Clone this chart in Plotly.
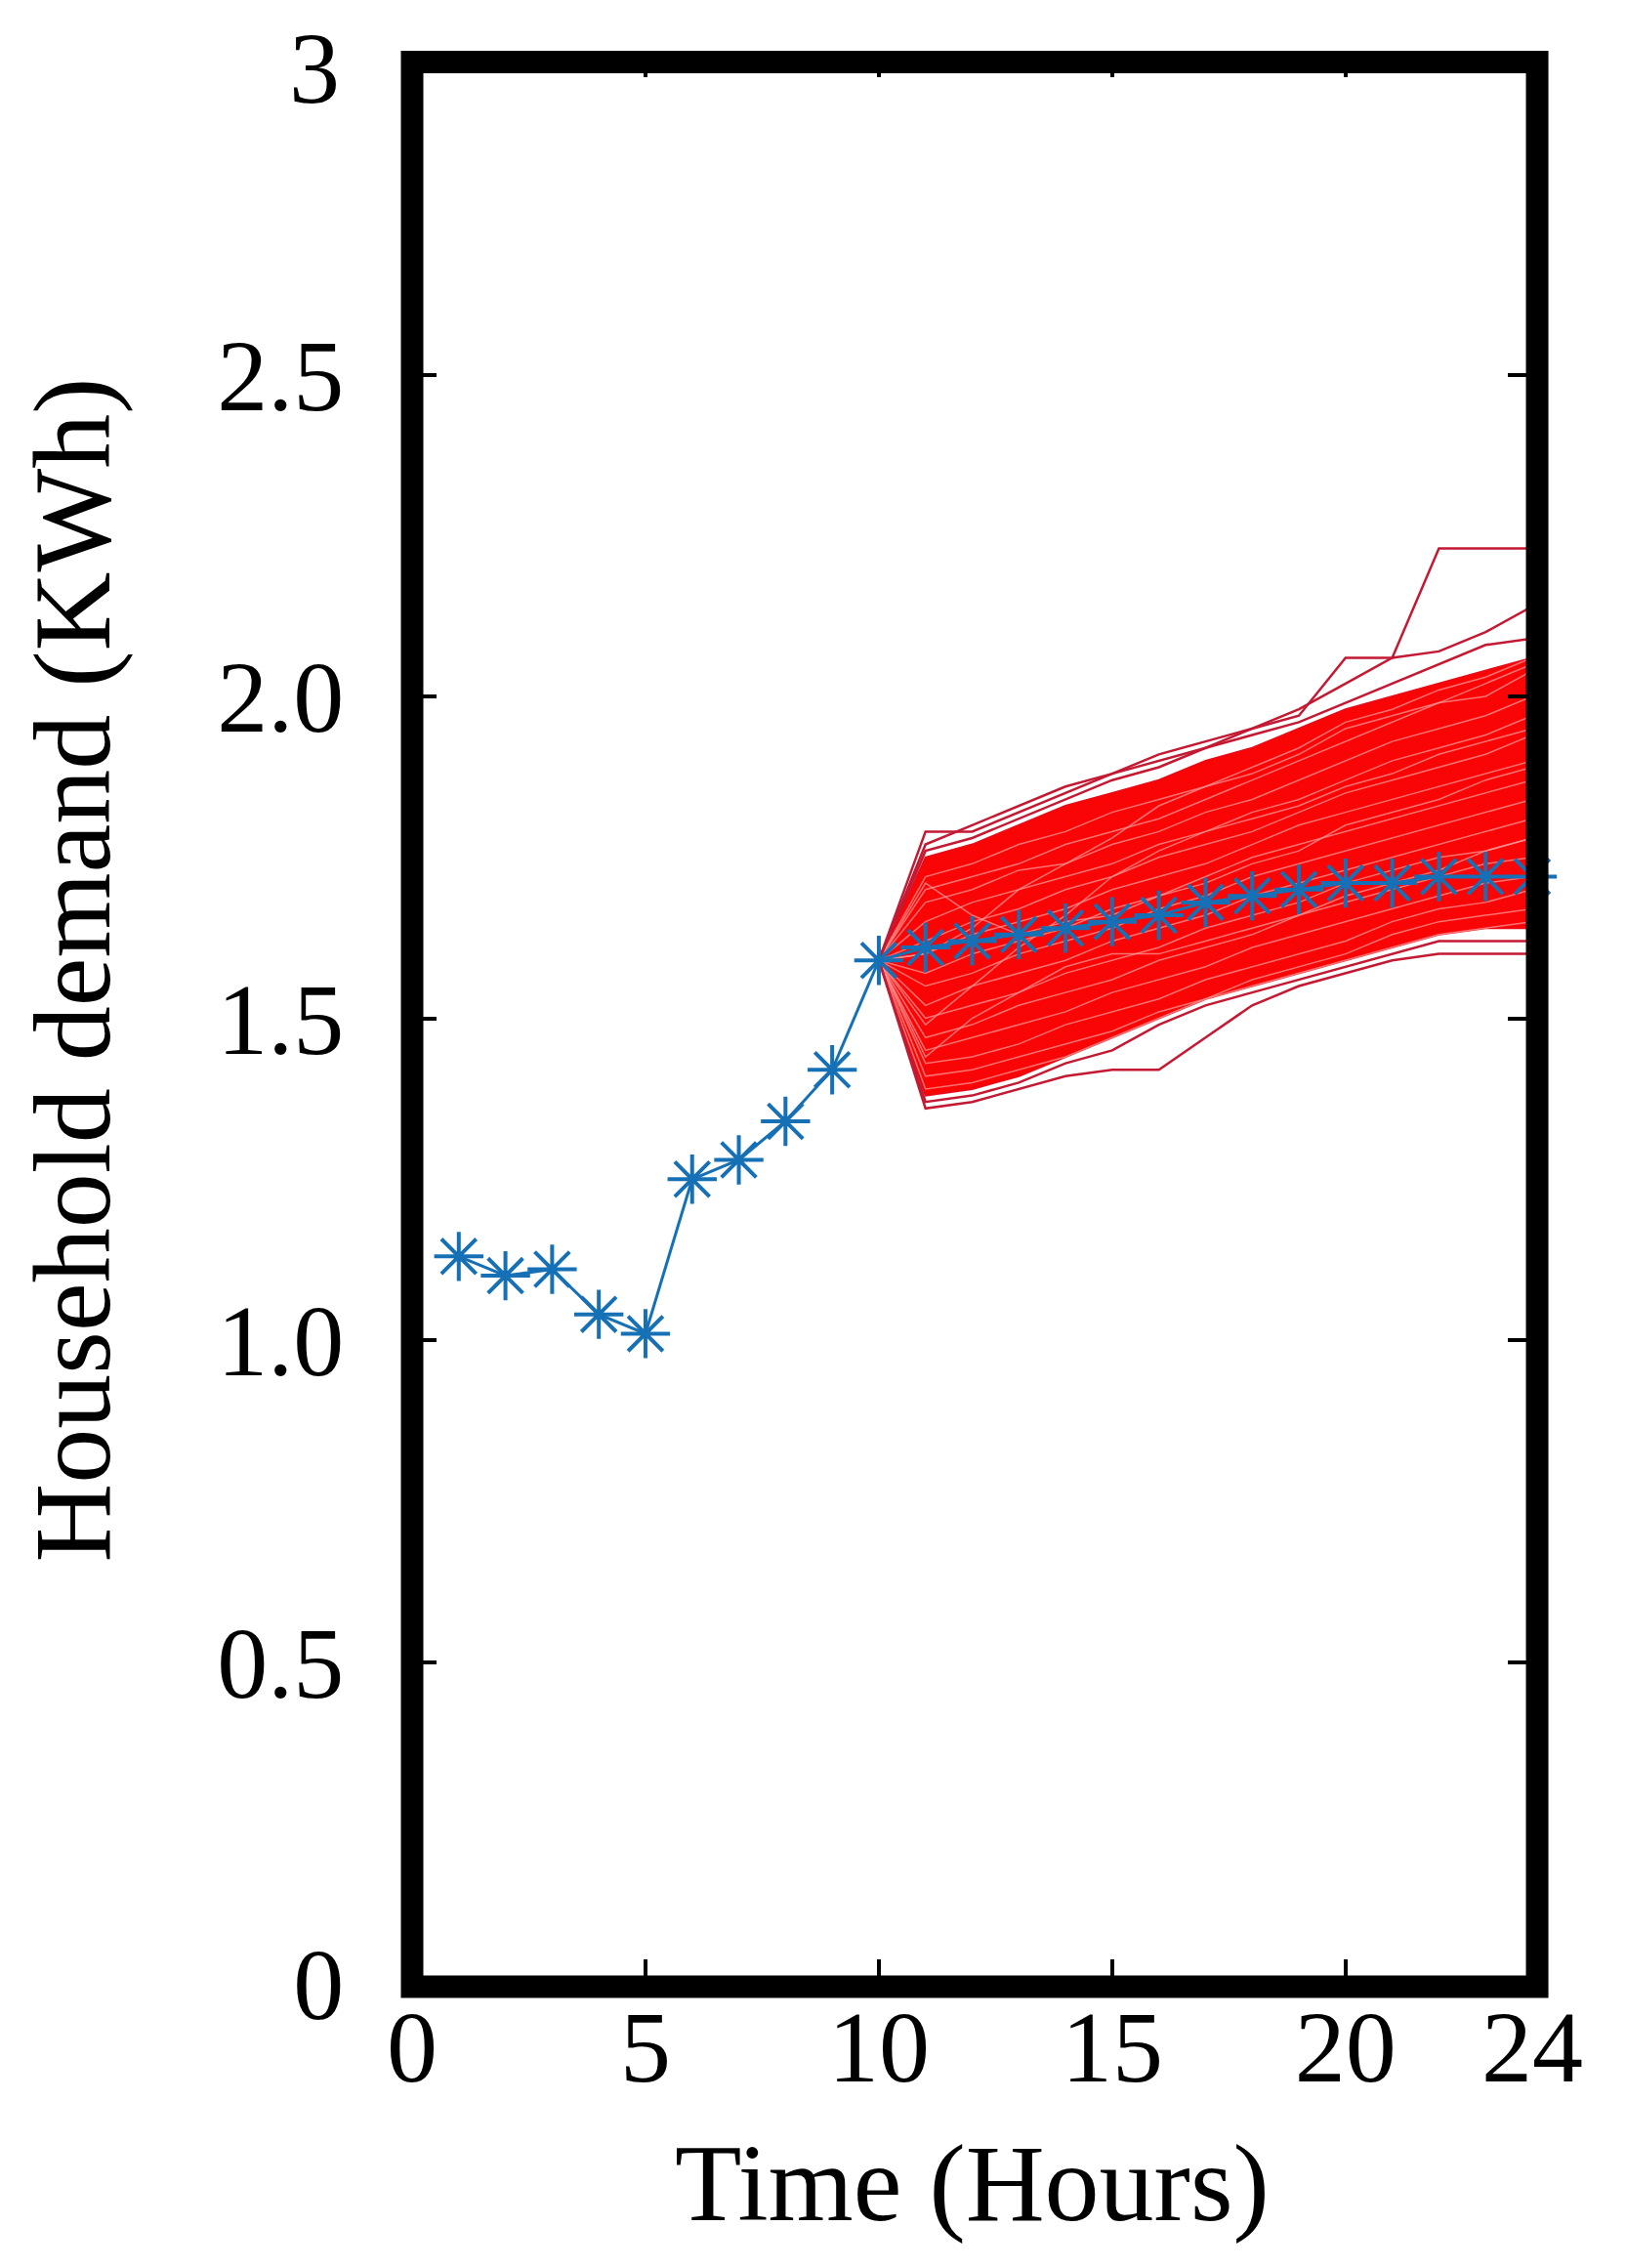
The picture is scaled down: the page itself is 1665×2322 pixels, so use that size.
import plotly.graph_objects as go

# ---------------- data ----------------
hours = list(range(1, 25))
forecast = [1.13, 1.10, 1.11, 1.04, 1.01, 1.25, 1.28, 1.34, 1.42, 1.59,
            1.61, 1.62, 1.63, 1.64, 1.65, 1.66, 1.68, 1.69, 1.70, 1.71,
            1.71, 1.72, 1.72, 1.72]

scen_hours = list(range(10, 25))
core_upper = [1.59, 1.75, 1.77, 1.80, 1.83, 1.85, 1.87, 1.90, 1.92, 1.95, 1.98, 2.00, 2.02, 2.04, 2.06]
core_lower = [1.59, 1.38, 1.39, 1.41, 1.44, 1.47, 1.50, 1.53, 1.55, 1.57, 1.59, 1.61, 1.63, 1.64, 1.64]

s01 = [1.59, 1.79, 1.79, 1.82, 1.85, 1.88, 1.91, 1.93, 1.95, 1.97, 2.06, 2.06, 2.23, 2.23, 2.23]
s02 = [1.59, 1.77, 1.80, 1.83, 1.86, 1.88, 1.90, 1.92, 1.95, 1.98, 2.02, 2.06, 2.07, 2.10, 2.14]
s03 = [1.59, 1.76, 1.78, 1.81, 1.84, 1.87, 1.89, 1.92, 1.94, 1.96, 1.99, 2.02, 2.05, 2.08, 2.09]
s04 = [1.59, 1.72, 1.74, 1.77, 1.79, 1.82, 1.84, 1.86, 1.89, 1.92, 1.96, 1.98, 2.01, 2.03, 2.06]
s05 = [1.59, 1.70, 1.72, 1.74, 1.77, 1.79, 1.81, 1.84, 1.87, 1.90, 1.93, 1.96, 1.99, 2.00, 2.04]
s06 = [1.59, 1.68, 1.70, 1.73, 1.74, 1.77, 1.79, 1.82, 1.84, 1.87, 1.90, 1.93, 1.95, 1.97, 2.00]
s07 = [1.59, 1.65, 1.68, 1.70, 1.72, 1.74, 1.77, 1.79, 1.82, 1.84, 1.87, 1.90, 1.92, 1.94, 1.97]
s08 = [1.59, 1.62, 1.65, 1.67, 1.70, 1.72, 1.75, 1.77, 1.79, 1.82, 1.85, 1.87, 1.89, 1.91, 1.94]
s09 = [1.59, 1.60, 1.63, 1.65, 1.67, 1.70, 1.72, 1.74, 1.77, 1.80, 1.82, 1.84, 1.86, 1.88, 1.90]
s10 = [1.59, 1.57, 1.60, 1.62, 1.64, 1.67, 1.69, 1.72, 1.75, 1.77, 1.79, 1.81, 1.83, 1.85, 1.87]
s11 = [1.59, 1.55, 1.57, 1.60, 1.62, 1.64, 1.67, 1.69, 1.72, 1.74, 1.76, 1.78, 1.80, 1.82, 1.84]
s12 = [1.59, 1.52, 1.55, 1.57, 1.59, 1.62, 1.64, 1.66, 1.69, 1.71, 1.73, 1.75, 1.77, 1.79, 1.81]
s13 = [1.59, 1.50, 1.52, 1.54, 1.57, 1.59, 1.61, 1.64, 1.66, 1.68, 1.71, 1.73, 1.75, 1.76, 1.78]
s14 = [1.59, 1.47, 1.49, 1.52, 1.54, 1.56, 1.59, 1.61, 1.63, 1.66, 1.68, 1.70, 1.72, 1.74, 1.75]
s15 = [1.59, 1.45, 1.47, 1.49, 1.51, 1.54, 1.56, 1.58, 1.61, 1.63, 1.65, 1.67, 1.69, 1.71, 1.72]
s16 = [1.59, 1.43, 1.44, 1.46, 1.49, 1.51, 1.53, 1.56, 1.58, 1.60, 1.62, 1.65, 1.67, 1.68, 1.70]
s17 = [1.59, 1.41, 1.42, 1.44, 1.46, 1.48, 1.51, 1.53, 1.56, 1.58, 1.60, 1.63, 1.65, 1.66, 1.67]
s18 = [1.59, 1.39, 1.40, 1.42, 1.44, 1.47, 1.50, 1.53, 1.55, 1.57, 1.59, 1.61, 1.63, 1.64, 1.65]
s19 = [1.59, 1.37, 1.38, 1.40, 1.43, 1.45, 1.49, 1.52, 1.54, 1.56, 1.58, 1.60, 1.62, 1.62, 1.62]
s20 = [1.59, 1.36, 1.37, 1.39, 1.41, 1.42, 1.42, 1.47, 1.52, 1.55, 1.57, 1.59, 1.60, 1.60, 1.60]
s21 = [1.59, 1.60, 1.64, 1.70, 1.74, 1.78, 1.83, 1.86, 1.88, 1.91, 1.95, 1.97, 1.99, 2.02, 2.05]
s22 = [1.59, 1.49, 1.55, 1.61, 1.66, 1.72, 1.76, 1.79, 1.81, 1.83, 1.86, 1.88, 1.91, 1.93, 1.95]
s23 = [1.59, 1.71, 1.66, 1.63, 1.65, 1.66, 1.69, 1.71, 1.74, 1.76, 1.80, 1.82, 1.84, 1.87, 1.89]
s24 = [1.59, 1.44, 1.50, 1.54, 1.58, 1.60, 1.60, 1.62, 1.64, 1.66, 1.69, 1.71, 1.73, 1.76, 1.78]

outer_scenarios = [s01, s02, s03, s19, s20]
inner_scenarios = [s04, s05, s06, s07, s08, s09, s10, s11, s12, s13, s14, s15,
                   s16, s17, s18, s21, s22, s23, s24]

x_ticks = [0, 5, 10, 15, 20, 24]
y_ticks = [0, 0.5, 1.0, 1.5, 2.0, 2.5, 3]
y_tick_text = ["0", "0.5", "1.0", "1.5", "2.0", "2.5", ""]   # top label "3" placed below as annotation
y_top_label = "3"

# ---------------- figure ----------------
fig = go.Figure()

# dense scenario band
fig.add_trace(go.Scatter(
    x=scen_hours + scen_hours[::-1],
    y=core_upper + core_lower[::-1],
    mode="lines", fill="toself", fillcolor="rgb(250,5,5)",
    line=dict(color="rgb(235,10,20)", width=2),
    hoverinfo="skip", showlegend=False))

for s in inner_scenarios:
    fig.add_trace(go.Scatter(x=scen_hours, y=s, mode="lines",
                             line=dict(color="rgba(255,150,150,0.75)", width=1.5),
                             hoverinfo="skip", showlegend=False))
for s in outer_scenarios:
    fig.add_trace(go.Scatter(x=scen_hours, y=s, mode="lines",
                             line=dict(color="rgb(195,25,50)", width=2.5),
                             hoverinfo="skip", showlegend=False))

fig.add_trace(go.Scatter(
    x=hours, y=forecast, mode="lines+markers",
    line=dict(color="#1670b5", width=3),
    marker=dict(symbol="asterisk-open", size=42,
                line=dict(color="#1670b5", width=4)),
    cliponaxis=False, showlegend=False))

font = dict(family="Liberation Serif", color="black")
tick_font = dict(family="Liberation Serif", size=104, color="black")

fig.update_layout(
    width=1665, height=2322,
    margin=dict(l=414, r=104, t=46, b=299),
    paper_bgcolor="white", plot_bgcolor="white",
    showlegend=False,
    font=font,
    xaxis=dict(range=[0, 24], tickvals=x_ticks, ticktext=[str(v) for v in x_ticks],
               ticks="inside", ticklen=25, tickwidth=4, tickcolor="black",
               mirror="ticks", showline=True, linecolor="black", linewidth=2,
               showgrid=False, zeroline=False, tickfont=tick_font,
               ticklabelstandoff=-27, ticklabeloverflow="allow", automargin=False),
    yaxis=dict(range=[0, 3], tickvals=y_ticks, ticktext=y_tick_text,
               ticks="inside", ticklen=25, tickwidth=4, tickcolor="black",
               mirror="ticks", showline=True, linecolor="black", linewidth=2,
               showgrid=False, zeroline=False, tickfont=tick_font,
               ticklabelstandoff=47, ticklabeloverflow="allow", automargin=False),
    shapes=[dict(type="rect", xref="paper", yref="paper",
                 x0=0, x1=1.0044, y0=-0.0015, y1=0.9952,
                 line=dict(color="black", width=23), layer="above")],
    annotations=[
        dict(text=y_top_label, xref="paper", yref="y", x=0, y=y_ticks[-1],
             xanchor="right", yanchor="top", xshift=-72, yshift=44,
             showarrow=False, font=tick_font),
        dict(text="Time (Hours)", xref="paper", yref="paper", x=0.5, y=-0.103,
             xanchor="center", yanchor="middle", showarrow=False,
             font=dict(family="Liberation Serif", size=112, color="black")),
        dict(text="Household demand (KWh)", xref="paper", yref="paper",
             x=-0.303, y=0.525, xanchor="center", yanchor="middle",
             textangle=-90, showarrow=False,
             font=dict(family="Liberation Serif", size=112, color="black")),
    ],
)

fig.write_html("out.html")
